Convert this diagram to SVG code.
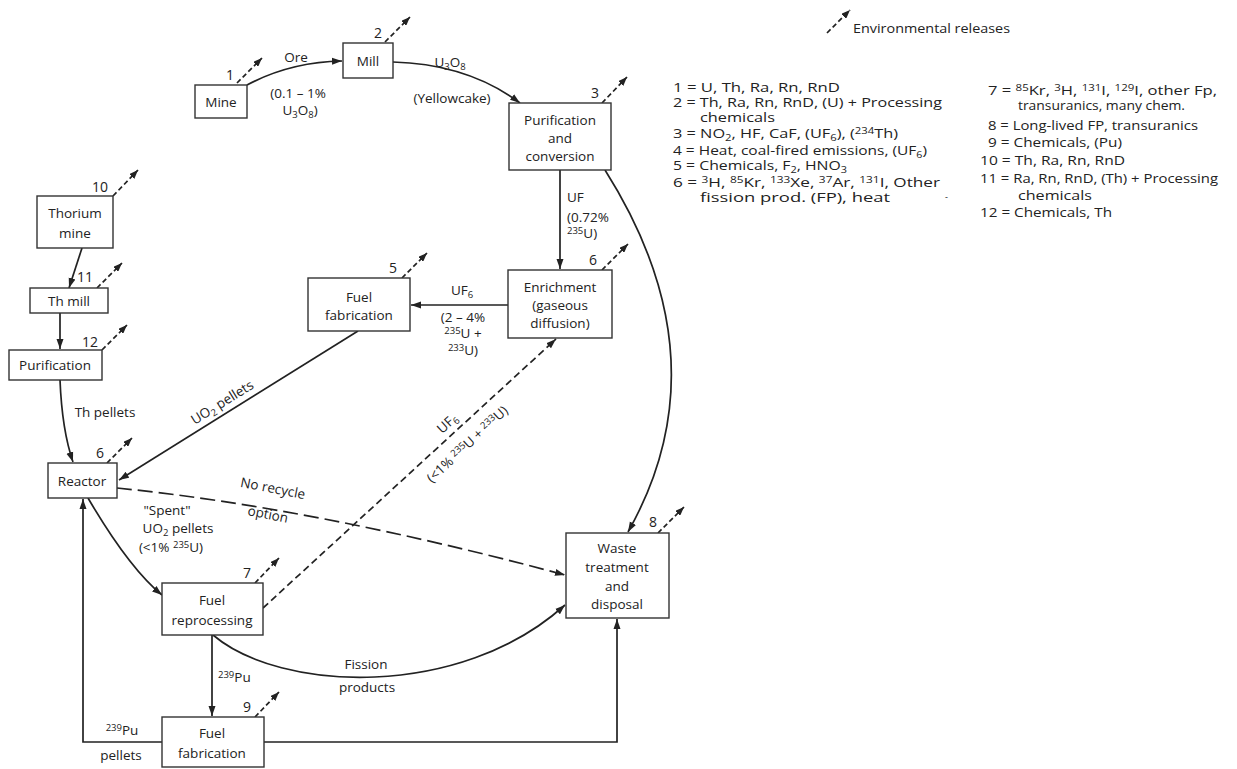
<svg xmlns="http://www.w3.org/2000/svg" width="1237" height="769" viewBox="0 0 1237 769">
<style>
.bg{fill:#fff}
.box{fill:#fff;stroke:#333;stroke-width:1.4}
.t{font-family:"Open Sans","Liberation Sans",sans-serif;font-size:13.5px;fill:#222;text-anchor:middle}
.s{text-anchor:start}
.leg{font-family:"Open Sans","Liberation Sans",sans-serif;font-size:13px;fill:#222}
.n{font-family:"Open Sans","Liberation Sans",sans-serif;font-size:14px;fill:#222;text-anchor:middle}
.sub{font-size:9.5px;baseline-shift:-3px}
.sup{font-size:9.5px;baseline-shift:4px}
.leg .sub,.leg .sup{font-size:9px}
.c{fill:none;stroke:#222;stroke-width:1.7}
.rel{fill:none;stroke:#222;stroke-width:1.7;stroke-dasharray:5 3}
.dash{stroke-dasharray:7 4}
.ldash{stroke-dasharray:15 6}
</style>
<defs>
<marker id="ah" markerUnits="userSpaceOnUse" markerWidth="10" markerHeight="8" refX="10" refY="4" orient="auto"><path d="M0,0.5 L10,4 L0,7.5 z" fill="#222"/></marker>
<marker id="rh" markerUnits="userSpaceOnUse" markerWidth="9" markerHeight="7" refX="9" refY="3.5" orient="auto"><path d="M0,0 L9,3.5 L0,7 z" fill="#222"/></marker>
</defs>
<rect class="bg" x="0" y="0" width="1237" height="769"/>

<g id="connectors">
<path class="c" d="M247,85 Q290,62 342,61" marker-end="url(#ah)"/>
<path class="c" d="M393,62 Q468,64 520,103" marker-end="url(#ah)"/>
<path class="c" d="M560,170 L560,269" marker-end="url(#ah)"/>
<path class="c" d="M508,305 L411,305" marker-end="url(#ah)"/>
<path class="c" d="M358,331 L119,480" marker-end="url(#ah)"/>
<path class="c" d="M605,170 Q725,360 628,532" marker-end="url(#ah)"/>
<path class="c" d="M82,248 L69,288" marker-end="url(#ah)"/>
<path class="c" d="M60,313 L60,349" marker-end="url(#ah)"/>
<path class="c" d="M60,380 Q62,430 73,462" marker-end="url(#ah)"/>
<path class="c ldash" d="M117,488 Q316,508 565,575" marker-end="url(#ah)"/>
<path class="c" d="M88,498 Q129,568 162,595" marker-end="url(#ah)"/>
<path class="c dash" d="M263,608 L556,339" marker-end="url(#ah)"/>
<path class="c" d="M212,635 L212,716" marker-end="url(#ah)"/>
<path class="c" d="M213,635 C280,692 460,700 565,605" marker-end="url(#ah)"/>
<path class="c" d="M264,742 L617,742 L617,619" marker-end="url(#ah)"/>
<path class="c" d="M162,742 L83,742 L83,499" marker-end="url(#ah)"/>
<!-- release arrows -->
<path class="rel" d="M237,83 L262,58" marker-end="url(#rh)"/>
<path class="rel" d="M385,42 L410,17" marker-end="url(#rh)"/>
<path class="rel" d="M602,103 L627,77" marker-end="url(#rh)"/>
<path class="rel" d="M602,270 L628,244" marker-end="url(#rh)"/>
<path class="rel" d="M402,278 L427,253" marker-end="url(#rh)"/>
<path class="rel" d="M113,196 L138,170" marker-end="url(#rh)"/>
<path class="rel" d="M97,288 L122,263" marker-end="url(#rh)"/>
<path class="rel" d="M102,350 L127,325" marker-end="url(#rh)"/>
<path class="rel" d="M107,463 L132,438" marker-end="url(#rh)"/>
<path class="rel" d="M255,583 L279,558" marker-end="url(#rh)"/>
<path class="rel" d="M658,533 L684,507" marker-end="url(#rh)"/>
<path class="rel" d="M255,717 L279,692" marker-end="url(#rh)"/>
<path class="rel" d="M827,33 L850,10" marker-end="url(#rh)"/>
</g>

<g id="connector-labels">
<text class="t" x="296" y="62">Ore</text>
<text class="t" x="298" y="98">(0.1 – 1%</text>
<text class="t" x="300" y="115">U<tspan class="sub">3</tspan>O<tspan class="sub">8</tspan>)</text>
<text class="t" x="450" y="67">U<tspan class="sub">3</tspan>O<tspan class="sub">8</tspan></text>
<text class="t" x="452" y="103">(Yellowcake)</text>
<text class="t s" x="567" y="202">UF</text>
<text class="t s" x="567" y="222">(0.72%</text>
<text class="t s" x="567" y="238"><tspan class="sup">235</tspan>U)</text>
<text class="t" x="462" y="295">UF<tspan class="sub">6</tspan></text>
<text class="t" x="463" y="322">(2 – 4%</text>
<text class="t" x="463" y="338"><tspan class="sup">235</tspan>U +</text>
<text class="t" x="463" y="355"><tspan class="sup">233</tspan>U)</text>
<text class="t" transform="translate(222,402) rotate(-32)" y="5">UO<tspan class="sub">2</tspan> pellets</text>
<text class="t" x="105" y="417">Th pellets</text>
<text class="t" transform="translate(273,488) rotate(11)" y="5">No recycle</text>
<text class="t" transform="translate(268,514) rotate(11)" y="5">option</text>
<text class="t" transform="translate(447,423) rotate(-43)" y="5">UF<tspan class="sub">6</tspan></text>
<text class="t" transform="translate(467,444) rotate(-43)" y="5">(&lt;1% <tspan class="sup">235</tspan>U + <tspan class="sup">233</tspan>U)</text>
<text class="t" x="167" y="515">"Spent"</text>
<text class="t" x="178" y="533">UO<tspan class="sub">2</tspan> pellets</text>
<text class="t" x="171" y="552">(&lt;1% <tspan class="sup">235</tspan>U)</text>
<text class="t s" x="218" y="682"><tspan class="sup">239</tspan>Pu</text>
<text class="t" x="122" y="735"><tspan class="sup">239</tspan>Pu</text>
<text class="t" x="121" y="760">pellets</text>
<text class="t" x="366" y="669">Fission</text>
<text class="t" x="367" y="692">products</text>
</g>

<g id="mine"><rect class="box" x="195" y="85" width="52" height="33"/><text class="t" x="221" y="107">Mine</text><text class="n" x="230" y="80">1</text></g>
<g id="mill"><rect class="box" x="343" y="43" width="50" height="35"/><text class="t" x="368" y="66">Mill</text><text class="n" x="378" y="38">2</text></g>
<g id="purification-conversion"><rect class="box" x="509" y="103" width="102" height="67"/><text class="t" x="560" y="125">Purification</text><text class="t" x="560" y="143">and</text><text class="t" x="560" y="161">conversion</text><text class="n" x="595" y="98">3</text></g>
<g id="enrichment"><rect class="box" x="508" y="270" width="104" height="68"/><text class="t" x="560" y="292">Enrichment</text><text class="t" x="560" y="310">(gaseous</text><text class="t" x="560" y="328">diffusion)</text><text class="n" x="593" y="265">6</text></g>
<g id="fuel-fabrication-5"><rect class="box" x="308" y="278" width="102" height="53"/><text class="t" x="359" y="302">Fuel</text><text class="t" x="359" y="320">fabrication</text><text class="n" x="393" y="273">5</text></g>
<g id="thorium-mine"><rect class="box" x="37" y="196" width="76" height="52"/><text class="t" x="75" y="218">Thorium</text><text class="t" x="75" y="238">mine</text><text class="n" x="100" y="192">10</text></g>
<g id="th-mill"><rect class="box" x="30" y="288" width="78" height="25"/><text class="t" x="69" y="306">Th mill</text><text class="n" x="85" y="282">11</text></g>
<g id="th-purification"><rect class="box" x="9" y="350" width="93" height="30"/><text class="t" x="55" y="370">Purification</text><text class="n" x="90" y="347">12</text></g>
<g id="reactor"><rect class="box" x="48" y="463" width="69" height="35"/><text class="t" x="82" y="486">Reactor</text><text class="n" x="100" y="458">6</text></g>
<g id="fuel-reprocessing"><rect class="box" x="162" y="583" width="101" height="52"/><text class="t" x="212" y="605">Fuel</text><text class="t" x="212" y="625">reprocessing</text><text class="n" x="247" y="578">7</text></g>
<g id="waste"><rect class="box" x="566" y="533" width="103" height="85"/><text class="t" x="617" y="553">Waste</text><text class="t" x="617" y="572">treatment</text><text class="t" x="617" y="591">and</text><text class="t" x="617" y="609">disposal</text><text class="n" x="653" y="527">8</text></g>
<g id="fuel-fabrication-9"><rect class="box" x="162" y="717" width="102" height="50"/><text class="t" x="212" y="738">Fuel</text><text class="t" x="212" y="758">fabrication</text><text class="n" x="247" y="712">9</text></g>

<g id="legend">
<text class="leg" x="853" y="33" textLength="157" lengthAdjust="spacingAndGlyphs">Environmental releases</text>
<text class="leg" x="673" y="92" textLength="167" lengthAdjust="spacingAndGlyphs">1 = U, Th, Ra, Rn, RnD</text>
<text class="leg" x="673" y="107" textLength="269" lengthAdjust="spacingAndGlyphs">2 = Th, Ra, Rn, RnD, (U) + Processing</text>
<text class="leg" x="700" y="122" textLength="75" lengthAdjust="spacingAndGlyphs">chemicals</text>
<text class="leg" x="673" y="138" textLength="225" lengthAdjust="spacingAndGlyphs">3 = NO<tspan class="sub">2</tspan>, HF, CaF, (UF<tspan class="sub">6</tspan>), (<tspan class="sup">234</tspan>Th)</text>
<text class="leg" x="673" y="155" textLength="254" lengthAdjust="spacingAndGlyphs">4 = Heat, coal-fired emissions, (UF<tspan class="sub">6</tspan>)</text>
<text class="leg" x="673" y="170" textLength="174" lengthAdjust="spacingAndGlyphs">5 = Chemicals, F<tspan class="sub">2</tspan>, HNO<tspan class="sub">3</tspan></text>
<text class="leg" x="673" y="187" textLength="267" lengthAdjust="spacingAndGlyphs">6 = <tspan class="sup">3</tspan>H, <tspan class="sup">85</tspan>Kr, <tspan class="sup">133</tspan>Xe, <tspan class="sup">37</tspan>Ar, <tspan class="sup">131</tspan>I, Other</text>
<text class="leg" x="700" y="202" textLength="190" lengthAdjust="spacingAndGlyphs">fission prod. (FP), heat</text>
<text class="leg" x="945" y="200" style="font-size:9px">-</text>
<text class="leg" x="988" y="95" textLength="229" lengthAdjust="spacingAndGlyphs">7 = <tspan class="sup">85</tspan>Kr, <tspan class="sup">3</tspan>H, <tspan class="sup">131</tspan>I, <tspan class="sup">129</tspan>I, other Fp,</text>
<text class="leg" x="1018" y="110" textLength="167" lengthAdjust="spacingAndGlyphs">transuranics, many chem.</text>
<text class="leg" x="988" y="130" textLength="210" lengthAdjust="spacingAndGlyphs">8 = Long-lived FP, transuranics</text>
<text class="leg" x="988" y="147" textLength="134" lengthAdjust="spacingAndGlyphs">9 = Chemicals, (Pu)</text>
<text class="leg" x="980" y="165" textLength="145" lengthAdjust="spacingAndGlyphs">10 = Th, Ra, Rn, RnD</text>
<text class="leg" x="980" y="183" textLength="238" lengthAdjust="spacingAndGlyphs">11 = Ra, Rn, RnD, (Th) + Processing</text>
<text class="leg" x="1018" y="200" textLength="74" lengthAdjust="spacingAndGlyphs">chemicals</text>
<text class="leg" x="980" y="217" textLength="132" lengthAdjust="spacingAndGlyphs">12 = Chemicals, Th</text>
</g>
</svg>
